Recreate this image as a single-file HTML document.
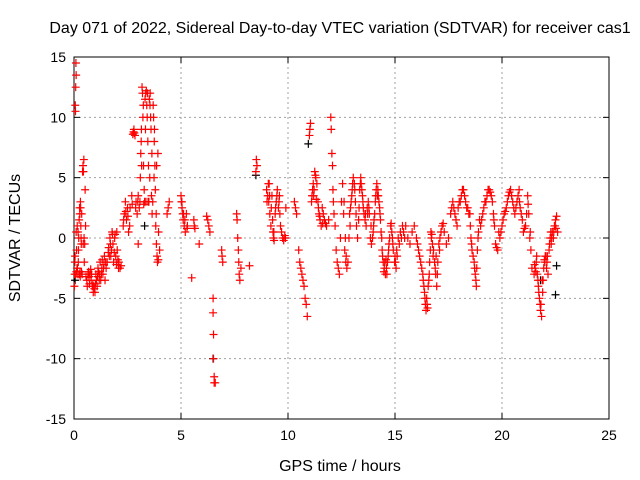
<!DOCTYPE html>
<html><head><meta charset="utf-8"><style>
html,body{margin:0;padding:0;background:#fff;}
svg{display:block;font-family:"Liberation Sans",sans-serif;}
</style></head><body>
<svg id="chart" width="640" height="480" viewBox="0 0 640 480" xmlns="http://www.w3.org/2000/svg">
<rect width="640" height="480" fill="#fff"/>
<text x="340" y="33" font-size="16" text-anchor="middle">Day 071 of 2022, Sidereal Day-to-day VTEC variation (SDTVAR) for receiver cas1</text>
<g id="grid"></g>
<g id="axes"></g>
<g id="marks"></g>
<text x="340" y="471" font-size="16" text-anchor="middle">GPS time / hours</text>
<text transform="translate(20,238) rotate(-90)" font-size="16" text-anchor="middle">SDTVAR / TECUs</text>
</svg>
<script>
const xTicks=[0,5,10,15,20,25];
const yTicks=[-15,-10,-5,0,5,10,15];
const gpsHours=[0.02,0.03,0.05,0.06,0.07,0.08,0.09,0.1,0.1,0.12,0.14,0.15,0.18,0.2,0.22,0.24,0.26,0.28,0.3,0.32,0.34,0.36,0.38,0.4,0.42,0.44,0.46,0.48,0.5,0.52,0.54,0.56,
0.6,0.65,0.7,0.75,0.8,0.85,0.9,0.95,1.0,1.05,1.1,1.15,1.2,1.25,1.3,1.35,1.4,1.45,1.5,
1.55,1.6,1.65,1.7,1.75,1.8,1.85,1.9,1.95,2.0,2.05,2.1,2.15,2.2,
2.3,2.35,2.4,2.45,2.5,2.55,2.6,2.7,2.75,2.8,2.85,2.9,2.95,3.0,3.0,
3.05,3.1,3.12,3.15,3.18,3.2,3.22,3.25,3.28,3.3,3.32,3.35,3.38,3.4,3.42,3.45,3.48,3.5,3.52,3.55,3.58,3.6,3.62,3.65,3.7,3.72,3.75,3.78,3.8,3.82,3.85,3.88,3.9,3.92,3.95,4.0,
4.35,4.4,4.45,5.0,5.02,5.05,5.08,5.1,5.15,5.2,5.25,5.3,5.6,5.62,5.65,5.5,5.85,
6.2,6.25,6.3,6.35,6.5,6.5,6.52,6.52,6.55,6.55,6.6,6.9,6.92,6.95,7.6,7.62,7.65,7.68,7.7,7.72,7.75,7.8,8.2,8.5,8.52,8.55,
9.0,9.05,9.1,9.12,9.15,9.2,9.25,9.3,9.32,9.35,9.4,9.45,9.5,9.55,9.6,9.65,9.7,9.75,9.8,9.85,9.9,
10.3,10.35,10.4,10.5,10.55,10.6,10.65,10.7,10.75,10.8,10.85,10.9,11.0,11.02,11.05,11.1,11.15,11.2,11.25,11.3,11.35,11.4,11.45,11.5,11.55,11.6,11.65,11.7,11.8,11.9,12.0,12.02,12.05,12.08,12.1,12.12,12.15,12.2,12.25,12.3,12.35,12.4,12.45,12.5,12.55,12.6,
12.65,12.7,12.75,12.8,12.85,12.9,12.95,13.0,13.05,13.1,13.15,13.2,13.25,13.3,13.35,13.4,13.45,13.5,13.55,13.6,13.65,13.7,13.75,13.8,13.85,13.9,13.95,14.0,14.05,14.1,14.15,14.2,14.25,14.3,14.35,14.4,14.45,14.5,14.55,14.6,14.65,14.7,14.75,14.8,14.85,14.9,15.0,15.05,15.1,15.2,15.3,15.4,15.5,
15.6,15.7,15.8,15.9,16.0,16.1,16.2,16.3,16.35,16.4,16.45,16.5,16.55,16.6,16.65,16.7,16.75,16.8,16.85,16.9,16.95,17.0,17.05,17.1,17.2,17.3,17.4,17.5,
17.6,17.7,17.8,17.9,18.0,18.1,18.2,18.3,18.4,18.5,18.55,18.6,18.7,18.75,18.8,18.85,18.9,19.0,
19.1,19.2,19.3,19.4,19.5,19.6,19.65,19.7,19.8,19.9,20.0,20.1,20.2,20.3,20.4,20.5,20.6,20.7,20.8,20.85,20.9,21.0,21.1,21.2,21.25,21.3,21.35,21.4,
21.5,21.55,21.6,21.65,21.7,21.75,21.8,21.85,21.9,21.95,22.0,22.05,22.1,22.15,22.2,22.25,22.3,22.35,22.4,22.45,22.5,22.55,22.6];
const sdtvar=[-4,-3,-1.5,11,10.5,12.5,14.5,13.5,0.5,-1,-2.5,1,-3,-2,0,1.5,2.5,-2.8,3,1,-0.5,2,-3,5.5,6,5.5,6.5,-2,-0.5,4,1,-3.2,
-3.5,-3,-3.2,-3,-3.5,-4,-4.5,-4.2,-3.8,-3.5,-3.2,-2.8,-3,-3.5,-2.5,-3,-2.2,-3.5,-2.5,
-2,-1.2,-1.5,-0.5,-1,0.3,-2,0,-1.5,0.5,-1.8,-2,-2.5,-2.3,
1,2,3,1.5,2.5,0.5,1,3.5,8.6,9,8.5,3,2,-0.5,3.5,
2.5,5,7,9,12.5,12,10,6,4,3,11.5,12,12.2,11,10,8,6,3,11.5,11,10,9,3.5,2,11,10,8,6,4,1,-0.5,-1.5,-2,7,0.5,-1,
2,2.5,3,3.5,3,2.5,2,1.5,1,0.5,2,1,1.5,1,0.8,-3.3,-0.5,
1.8,1.5,1,0.5,-5,-6.2,-8,-10,-11.5,-12,-12,-1,-1.5,-2,2,1.5,0,-1,-2,-3,-3.5,-2.5,-2.3,5.5,6.5,6,
4,3.5,3,4.5,2,1,3.5,0.5,0,-0.2,2,3,4,2.5,3.5,1,0.5,0,-0.2,0.2,2.5,
3,2.5,2,-1,-2,-2.5,-3,-3.5,-4,-5,-5.5,-6.5,8.5,9,9.5,3,4,3.5,5.5,5,4.5,3,2,1.5,1,2.5,2,1.5,1,1.5,10,9,7,6,4,3,2,1,-1,-2,-2.5,-3,0,3,4.5,2,
-1,-2,-2.5,-2,0,1,3,4,5,4.5,3,1,0,1.5,4,5,4,3,2,1.5,1,2.5,3,2,0,-0.5,0,1,2,3.5,4.5,4,3,2,0.5,-1,-2,-2.5,-3,-2.5,-2,-1,0,1,0.5,-0.5,-1.5,-2.5,-1.5,-0.5,0,0.5,1,
0,-0.5,0.5,1,0,-1,-2,-3,-4,-5,-6,-5.5,-4,-3,-1,0,-0.5,-1,-2,-3,-4,-2,-0.5,0,1,0.5,-0.5,0,
2,3,2,1,3,3.5,4,3,2.5,2,0,-1,-2,-3,-4,-1,0.5,1,
2,3,3.5,4,3.5,2,1,-0.5,-1,0,1,2,2.5,3.5,4,3,2,3,4,2.5,2,0.5,1,3.5,2,0,-1,-2.5,
-3,-2.5,-2,-3,-4,-5,-6,-6.5,-4.5,-2.5,-2,-1.5,-2,-3,-1,0,-0.5,0.5,0,1,1.5,1.8,0.5];
const extraHours=[0.04,0.08,0.11,0.16,0.19,0.21,0.25,0.27,0.29,0.31,0.33,0.35,0.43,0.47,
0.62,0.68,0.72,0.78,0.82,0.88,0.92,0.98,1.02,1.08,1.12,1.18,1.22,1.28,1.32,1.38,1.42,1.48,
1.62,1.68,1.72,1.78,1.82,1.88,1.92,1.98,2.02,2.08,
2.32,2.42,2.52,2.62,2.72,2.78,2.82,2.88,2.98,
3.08,3.14,3.16,3.24,3.26,3.34,3.36,3.44,3.46,3.54,3.56,3.64,3.68,3.74,3.76,3.84,3.86,3.94,
5.04,5.12,5.18,5.28,
9.02,9.08,9.14,9.22,9.28,9.34,9.42,9.48,9.58,9.62,9.88,
11.12,11.18,11.22,11.28,11.32,11.42,11.48,11.62,11.75,
12.62,12.68,12.72,12.88,12.92,12.98,13.02,13.12,13.18,13.32,13.38,13.42,13.48,13.52,13.62,13.72,13.78,13.88,13.98,14.02,14.08,14.12,14.18,14.22,14.28,14.32,14.38,14.42,14.48,14.52,14.58,14.62,14.68,14.72,14.82,14.88,14.92,14.98,15.02,15.08,15.15,15.25,15.35,15.45,
16.05,16.15,16.25,16.32,16.38,16.42,16.48,16.52,16.58,16.62,16.68,16.72,16.78,16.88,16.92,16.98,17.08,17.15,17.25,
17.65,17.75,17.85,17.95,18.05,18.15,18.25,18.35,18.45,18.52,18.58,18.65,18.72,18.78,18.82,18.88,18.95,
19.05,19.15,19.25,19.35,19.45,19.55,19.62,19.75,19.85,19.95,20.05,20.15,20.25,20.35,20.45,20.55,20.65,20.75,20.82,20.95,21.05,21.15,21.22,21.32,
21.52,21.58,21.62,21.68,21.72,21.78,21.82,21.88,21.92,21.98,22.02,22.08,22.12,22.22,22.28,22.32,22.42,22.48,22.52];
const extraVals=[-2,-3,-2.8,-2.5,0.5,-1,-3,2,-3.2,2.5,0,-2.8,-0.5,0,
-4,-2.8,-3.8,-2.6,-3,-3.8,-4,-4.5,-3,-4,-2.5,-3.5,-2,-3,-1.8,-2.5,-1.5,-2,
-0.8,0,-1.5,0.5,-0.5,-1.2,0.3,-2.2,-1,-2.5,
1.5,2.2,1.8,2.5,2.8,8.8,8.7,2.5,3,
3,8,6,11,2.8,9,3,12,3,5,12,7,3,5,9,2,6,-1.8,
3,2,1.5,0.8,
3,4.5,3.5,2.5,1.5,0.5,2.5,3.5,3,2,0,
3.5,4.5,4,5.2,3.2,2.5,1.8,1.2,1.2,
3,0,-1.5,2,2.5,3.5,4.5,4,2,2.5,4.5,4.5,3.5,2.5,2,2,2.5,1,0.5,1.5,3,4,3.5,3.5,2.5,1.5,0,-1.5,-2.8,-2,-1.8,-3,-1.5,-0.5,1.2,0,-1,-2,-2,-1,0,0.5,1,0,
-0.5,-1.5,-2.5,-3.5,-4.5,-5.5,-5,-5.8,-3.5,-2,0.5,0.3,-1.5,-2.5,-1.5,-3,-1,0.5,1.2,
2.5,2.5,1.5,2.5,3,4,3.5,2.5,2,1,-0.5,-1.5,-2.5,-3.5,-2.5,0,1.5,
1.5,2.5,3,4,3.8,3,1.5,-0.8,0.5,0.5,1.5,2.2,3,3.8,3.5,2.5,2.5,3.5,3,1.5,0.8,2,2.8,0.5,
-2.2,-2.8,-1.5,-3.5,-4.5,-5.5,-5.5,-3.5,-3.5,-1.8,-1.5,-2.5,-1.5,-0.5,0.5,0,0.5,1,0.8];
const blackHours=[0.05,3.3,6.5,8.5,10.95,21.8,22.5,22.55];
const blackVals=[-3.5,1,-10,5.2,7.8,-3.5,-4.7,-2.3];

const X0=74,X1=609,Y0=419,Y1=57;
const xs=t=>X0+(t-0)/(25-0)*(X1-X0);
const ys=v=>Y0-(v+15)/30*(Y0-Y1);
const NS="http://www.w3.org/2000/svg";
function mk(tag,attrs,parent){const e=document.createElementNS(NS,tag);for(const k in attrs)e.setAttribute(k,attrs[k]);parent.appendChild(e);return e;}
const grid=document.getElementById('grid'),axes=document.getElementById('axes'),marks=document.getElementById('marks');
xTicks.forEach(t=>{
  const x=xs(t);
  if(t>0&&t<25){const g=mk('line',{x1:x,x2:x,y1:Y1,y2:Y0,stroke:'#a0a0a0','stroke-dasharray':'2,3','stroke-width':1},grid);
  
  }
  mk('line',{x1:x,x2:x,y1:Y0,y2:Y0-6,stroke:'#000'},axes);
  mk('line',{x1:x,x2:x,y1:Y1,y2:Y1+6,stroke:'#000'},axes);
  const tx=mk('text',{x:x,y:Y0+21,'font-size':14,'text-anchor':'middle'},axes);tx.textContent=t;
  
  
});
yTicks.forEach(v=>{
  const y=ys(v);
  if(v>-15&&v<15){const g=mk('line',{x1:X0,x2:X1,y1:y,y2:y,stroke:'#a0a0a0','stroke-dasharray':'2,3','stroke-width':1},grid);
  
  }
  mk('line',{x1:X0,x2:X0+6,y1:y,y2:y,stroke:'#000'},axes);
  mk('line',{x1:X1,x2:X1-6,y1:y,y2:y,stroke:'#000'},axes);
  const tx=mk('text',{x:X0-8,y:y+5,'font-size':14,'text-anchor':'end'},axes);tx.textContent=v;
  
  
});
const frame=mk('rect',{x:X0,y:Y1,width:X1-X0,height:Y0-Y1,fill:'none',stroke:'#000','stroke-width':1},axes);


function plus(t,v,color){
  const x=xs(t),y=ys(v);
  return mk('path',{d:`M${x-4},${y}H${x+4}M${x},${y-4}V${y+4}`,stroke:color,'stroke-width':1.2,fill:'none'},marks);
}
blackHours.forEach((t,i)=>{const p=plus(t,blackVals[i],'#000');
  
  });
gpsHours.forEach((t,i)=>{const p=plus(t,sdtvar[i],'#ff0000');
  
  });
extraHours.forEach((t,i)=>{const p=plus(t,extraVals[i],'#ff0000');
  
  });
</script>
</body></html>
